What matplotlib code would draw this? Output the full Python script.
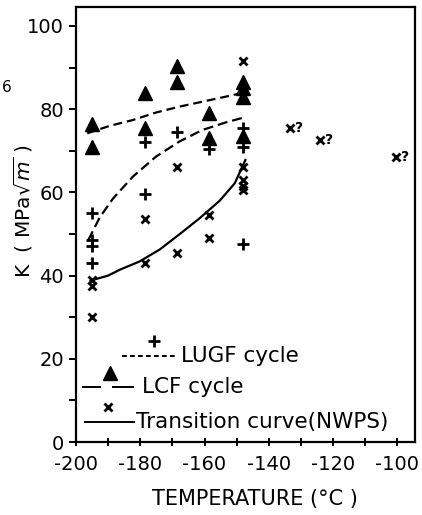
import numpy as np
import matplotlib
matplotlib.use("Agg")
import matplotlib.pyplot as plt

# data
plus_x = [-195, -195, -195, -195, -178.5, -178.5, -168.5, -158.5, -148, -148, -148]
plus_y = [55, 48.5, 47, 43, 72, 59.5, 74.5, 70.5, 75.5, 71, 47.5]

tri_x = [-195, -195, -178.5, -178.5, -168.5, -168.5, -158.5, -158.5, -148, -148, -148, -148]
tri_y = [76.5, 71, 84, 75.5, 90.5, 86.5, 79, 73, 86.5, 85, 83, 73.5]

cross_x = [-195, -195, -195, -178.5, -178.5, -168.5, -168.5, -158.5, -158.5,
           -148, -148, -148, -148, -148]
cross_y = [39, 37.5, 30, 53.5, 43, 66, 45.5, 54.5, 49, 91.5, 66, 63, 61.5, 60.5]

query_x = [-133.5, -124, -100.5]
query_y = [75.5, 72.5, 68.5]

# hand-drawn curves
lcf_cx = [-196.5, -189.5, -182.3, -175.1, -167.9, -160.7, -153.5, -147.8]
lcf_cy = [74.2, 76.0, 77.4, 79.2, 80.6, 81.8, 83.0, 84.0]

lugf_cx = [-196.2, -192.6, -188.5, -182.3, -175.1, -167.9, -160.7, -153.5, -147.8]
lugf_cy = [48.5, 54.0, 58.5, 63.8, 68.6, 72.2, 75.0, 76.8, 78.0]

nwps_cx = [-195.5, -190, -186.4, -180.2, -173.9, -167.7, -161.5, -155.3, -150.6, -147.3]
nwps_cy = [38.8, 40.0, 41.4, 43.4, 46.3, 50.0, 53.8, 58.0, 62.2, 67.8]

fig = plt.figure(figsize=(4.22, 5.15), dpi=100)
ax = fig.add_axes([0.180, 0.1417, 0.803, 0.845])

pk = dict(ls="none", marker="+", ms=8, mew=2, color="k")
tk = dict(ls="none", marker="^", ms=10, color="k")
xk = dict(ls="none", marker="x", ms=6, mew=2, color="k")

ax.plot(plus_x, plus_y, **pk)
ax.plot(tri_x, tri_y, **tk)
ax.plot(cross_x, cross_y, **xk)
ax.plot(query_x, query_y, **xk)
for qx, qy in zip(query_x, query_y):
    ax.annotate("?", (qx, qy), xytext=(3.5, 0), textcoords="offset points",
                fontsize=10, fontweight="bold", va="center")

ax.plot(lcf_cx, lcf_cy, color="k", lw=1.6, dashes=(4, 2.2))
ax.plot(lugf_cx, lugf_cy, color="k", lw=1.6, dashes=(4.5, 2.2))
ax.plot(nwps_cx, nwps_cy, color="k", lw=1.6)

# hand-made key
fs = 15.5
ax.plot([-175.8], [24.4], **pk)
ax.plot([-185.8, -168.8], [20.7, 20.7], color="k", lw=1.4, dashes=(2.5, 1.6))
ax.text(-167.3, 20.7, "LUGF cycle", fontsize=fs, va="center")

ax.plot([-189.5], [16.5], **tk)
ax.plot([-197.8, -192.6], [13.3, 13.3], color="k", lw=1.4)
ax.plot([-188.6, -182.4], [13.3, 13.3], color="k", lw=1.4)
ax.text(-179.6, 13.3, "LCF cycle", fontsize=fs, va="center")

ax.plot([-190], [8.5], **xk)
ax.plot([-197.2, -181.8], [4.9, 4.9], color="k", lw=1.4)
ax.text(-181.2, 4.9, "Transition curve(NWPS)", fontsize=fs, va="center")

ax.set_xlim(-200, -94.6)
ax.set_ylim(0, 104.6)
ax.set_xticks(np.arange(-200, -99, 20))
ax.set_xticks(np.arange(-190, -99, 20), minor=True)
ax.set_yticks(np.arange(0, 101, 20))
ax.set_yticks(np.arange(10, 100, 20), minor=True)
ax.tick_params(axis="x", which="both", direction="inout", length=6, width=1.4,
               labelsize=14, pad=6)
ax.tick_params(axis="y", which="both", direction="out", length=5, width=1.4,
               labelsize=14)
ax.set_xticklabels(["-200", "-180", "-160", "-140", "-120", "-100"])
for s in ax.spines.values():
    s.set_linewidth(1.6)

ax.set_xlabel("TEMPERATURE (\u00b0C )", fontsize=15)
ax.xaxis.set_label_coords(0.527, -0.108)
ax.set_ylabel("K  ( MPa$\\sqrt{m}$ )", fontsize=14.5)
ax.yaxis.set_label_coords(-0.122, 0.53)

fig.text(0.004, 1 - 88 / 515, "6", fontsize=11, va="center")

fig.savefig("out.png", dpi=100)
